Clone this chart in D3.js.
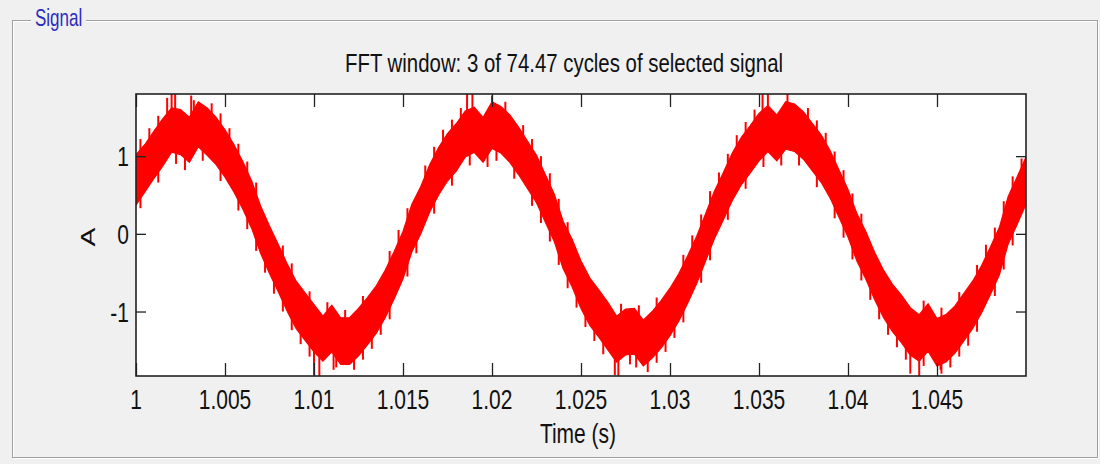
<!DOCTYPE html>
<html>
<head>
<meta charset="utf-8">
<script src="https://cdn.jsdelivr.net/npm/d3@7"></script>
<style>
  html, body { margin: 0; padding: 0; background: #f0f0f0; }
  svg { display: block; }
  text { font-family: "Liberation Sans", Arial, sans-serif; }
</style>
</head>
<body>
<svg id="chart" width="1100" height="464"></svg>
<script>
// ---- data ---------------------------------------------------------------
const titleText = "FFT window: 3 of 74.47 cycles of selected signal";
const xLabel = "Time (s)";
const yLabel = "A";
const groupLabel = "Signal";

const xTicks = [1, 1.005, 1.01, 1.015, 1.02, 1.025, 1.03, 1.035, 1.04, 1.045];
const xTickLabels = ["1", "1.005", "1.01", "1.015", "1.02", "1.025", "1.03", "1.035", "1.04", "1.045"];
const yTicks = [-1, 0, 1];
const yTickLabels = ["-1", "0", "1"];

// signal sampled every 0.5 ms from t = 1 s: upper and lower edge of the ripple band (A)
const startTime = 1;
const sampleStep = 0.0005;
const bandUpper = [
  1.02, 1.15, 1.32, 1.48, 1.62, 1.60, 1.50, 1.70, 1.62, 1.50,
  1.34, 1.15, 0.93, 0.68, 0.36, 0.10, -0.14, -0.39, -0.61, -0.76,
  -0.91, -1.06, -0.92, -1.08, -1.08, -0.96, -0.82, -0.67, -0.47, -0.23,
  0.03, 0.38, 0.61, 0.89, 1.11, 1.29, 1.42, 1.58, 1.63, 1.50,
  1.70, 1.64, 1.53, 1.37, 1.19, 1.01, 0.76, 0.51, 0.16, -0.07,
  -0.35, -0.57, -0.72, -0.88, -1.06, -0.97, -0.96, -1.11, -1.00, -0.86,
  -0.70, -0.51, -0.28, -0.03, 0.26, 0.55, 0.79, 1.04, 1.24, 1.39,
  1.55, 1.65, 1.53, 1.70, 1.67, 1.57, 1.42, 1.27, 1.07, 0.82,
  0.57, 0.26, 0.03, -0.24, -0.47, -0.65, -0.79, -0.95, -1.04, -0.90,
  -1.09, -1.04, -0.93, -0.77, -0.61, -0.41, -0.17, 0.08, 0.48, 0.73,
  0.99
];
const bandLower = [
  0.37, 0.54, 0.71, 0.87, 1.05, 1.02, 0.92, 1.12, 1.01, 0.89,
  0.73, 0.54, 0.32, 0.07, -0.25, -0.51, -0.75, -1.00, -1.22, -1.37,
  -1.52, -1.64, -1.52, -1.68, -1.68, -1.57, -1.43, -1.28, -1.08, -0.84,
  -0.58, -0.23, 0.00, 0.28, 0.50, 0.68, 0.81, 0.99, 1.05, 0.92,
  1.10, 1.04, 0.92, 0.76, 0.58, 0.40, 0.15, -0.10, -0.45, -0.68,
  -0.96, -1.18, -1.33, -1.49, -1.65, -1.56, -1.55, -1.70, -1.60, -1.47,
  -1.31, -1.12, -0.89, -0.64, -0.35, -0.06, 0.18, 0.43, 0.63, 0.78,
  0.94, 1.06, 0.94, 1.09, 1.06, 0.96, 0.81, 0.66, 0.46, 0.21,
  -0.04, -0.35, -0.58, -0.85, -1.08, -1.26, -1.40, -1.56, -1.64, -1.51,
  -1.70, -1.65, -1.54, -1.38, -1.22, -1.02, -0.78, -0.53, -0.13, 0.12,
  0.38
];

// ripple peaks poking out of the band: time (s) and tip value (A)
const rippleTime = [
  1.00025, 1.00075, 1.00125, 1.00175, 1.00325, 1.00425, 1.00475, 1.00525, 1.00575, 1.00625,
  1.00675, 1.00825, 1.00875, 1.00975, 1.01075, 1.01175, 1.01275, 1.01425, 1.01475, 1.01525,
  1.01625, 1.01675, 1.01725, 1.01775, 1.01825, 1.02075, 1.02175, 1.02225, 1.02275, 1.02325,
  1.02375, 1.02425, 1.02725, 1.02825, 1.02925, 1.03075, 1.03125, 1.03175, 1.03225, 1.03275,
  1.03325, 1.03375, 1.03425, 1.03475, 1.03775, 1.03825, 1.03875, 1.03925, 1.03975, 1.04025,
  1.04075, 1.04425, 1.04525, 1.04625, 1.04725, 1.04775, 1.04825, 1.04875, 1.04925, 1.04975,
  1.00025, 1.00125, 1.00225, 1.00275, 1.00375, 1.00475, 1.00575, 1.00625, 1.00675, 1.00725,
  1.00775, 1.00825, 1.00875, 1.00925, 1.00975, 1.01125, 1.01225, 1.01275, 1.01325, 1.01375,
  1.01425, 1.01525, 1.01575, 1.01675, 1.01775, 1.01875, 1.01975, 1.02025, 1.02125, 1.02225,
  1.02275, 1.02325, 1.02375, 1.02425, 1.02475, 1.02525, 1.02575, 1.02625, 1.02775, 1.02875,
  1.02925, 1.02975, 1.03025, 1.03075, 1.03175, 1.03225, 1.03325, 1.03425, 1.03525, 1.03625,
  1.03725, 1.03825, 1.03925, 1.03975, 1.04025, 1.04075, 1.04125, 1.04175, 1.04225, 1.04275,
  1.04325, 1.04425, 1.04525, 1.04575, 1.04625, 1.04675, 1.04725, 1.04825, 1.04875, 1.04925
];
const rippleTip = [
  1.22, 1.36, 1.52, 1.75, 1.72, 1.68, 1.55, 1.36, 1.16, 0.93,
  0.66, -0.15, -0.38, -0.74, -0.88, -0.98, -0.80, -0.22, 0.05, 0.33,
  0.88, 1.12, 1.34, 1.47, 1.62, 1.70, 1.40, 1.22, 1.00, 0.78,
  0.45, 0.15, -0.90, -0.92, -0.82, -0.27, -0.02, 0.25, 0.55, 0.79,
  1.03, 1.27, 1.44, 1.60, 1.62, 1.46, 1.30, 1.06, 0.82, 0.52,
  0.26, -0.86, -0.95, -0.75, -0.40, -0.14, 0.08, 0.42, 0.74, 0.97,
  0.33, 0.66, 0.90, 0.82, 0.94, 0.68, 0.30, 0.06, -0.22, -0.50,
  -0.77, -1.00, -1.24, -1.42, -1.58, -1.72, -1.75, -1.62, -1.48, -1.30,
  -1.10, -0.55, -0.25, 0.26, 0.62, 0.88, 0.86, 0.94, 0.71, 0.36,
  0.14, -0.10, -0.40, -0.70, -0.95, -1.20, -1.38, -1.55, -1.68, -1.78,
  -1.66, -1.52, -1.34, -1.14, -0.63, -0.34, 0.18, 0.58, 0.86, 0.88,
  0.88, 0.60, 0.20, -0.05, -0.33, -0.60, -0.85, -1.10, -1.30, -1.46,
  -1.62, -1.70, -1.80, -1.72, -1.58, -1.44, -1.26, -0.80, -0.46, -0.15
];

// isolated switching spikes near the crests: time (s), high end and low end (A)
const spikeTime = [1.0020, 1.0022, 1.0031, 1.0186, 1.0189, 1.0200, 1.0352, 1.0355, 1.0366,
                   1.0100, 1.0103, 1.0111, 1.0269, 1.0271, 1.0281, 1.0435, 1.0440, 1.0452];
const spikeHigh = [1.80, 1.80, 1.78, 1.80, 1.80, 1.78, 1.80, 1.80, 1.80,
                   -1.20, -1.20, -1.20, -1.20, -1.20, -1.20, -1.20, -1.20, -1.20];
const spikeLow  = [1.20, 1.20, 1.20, 1.20, 1.20, 1.20, 1.20, 1.20, 1.20,
                   -1.82, -1.83, -1.75, -1.82, -1.83, -1.72, -1.80, -1.83, -1.75];

// ---- layout -------------------------------------------------------------
const W = 1100, H = 464;
const plot = { left: 136, right: 1026, top: 94, bottom: 376 };
const stretch = 1.35;   // glyphs of this panel are drawn tall and narrow

const svg = d3.select("#chart");

svg.append("rect").attr("width", W).attr("height", H).attr("fill", "#f0f0f0");

// etched group box
const box = { left: 12, right: 1097, top: 20, bottom: 457 };
const etched = svg.append("g").attr("fill", "none").attr("shape-rendering", "crispEdges");
etched.append("rect")
  .attr("x", box.left + 1.5).attr("y", box.top + 1.5)
  .attr("width", box.right - box.left).attr("height", box.bottom - box.top)
  .attr("stroke", "#ffffff").attr("stroke-width", 1);
etched.append("rect")
  .attr("x", box.left + 0.5).attr("y", box.top + 0.5)
  .attr("width", box.right - box.left).attr("height", box.bottom - box.top)
  .attr("stroke", "#a0a0a0").attr("stroke-width", 1);
svg.append("rect").attr("x", 31).attr("y", 10).attr("width", 55).attr("height", 16).attr("fill", "#f0f0f0");
svg.append("g").attr("transform", `translate(35,26) scale(1,1.4)`)
  .append("text").attr("x", 0).attr("y", 0)
  .attr("font-size", 17).attr("fill", "#2b2bc0").text(groupLabel);

// scales
const x = d3.scaleLinear().domain([1, 1.05]).range([plot.left, plot.right]);
const y = d3.scaleLinear().domain([-1.83, 1.80]).range([plot.bottom, plot.top]);

// plot background
svg.append("rect")
  .attr("x", plot.left).attr("y", plot.top)
  .attr("width", plot.right - plot.left).attr("height", plot.bottom - plot.top)
  .attr("fill", "#ffffff");

svg.append("clipPath").attr("id", "plotclip")
  .append("rect")
  .attr("x", plot.left).attr("y", plot.top)
  .attr("width", plot.right - plot.left).attr("height", plot.bottom - plot.top);

const samples = bandUpper.map((u, i) => ({ t: startTime + i * sampleStep, hi: u, lo: bandLower[i] }));

// middle of the band at time t, used as the root of each ripple stroke
function bandMid(t) {
  const f = (t - startTime) / sampleStep;
  const i0 = Math.max(0, Math.min(samples.length - 1, Math.floor(f)));
  const i1 = Math.min(samples.length - 1, i0 + 1);
  const m0 = (samples[i0].hi + samples[i0].lo) / 2;
  const m1 = (samples[i1].hi + samples[i1].lo) / 2;
  return d3.interpolateNumber(m0, m1)(f - i0);
}

const wave = svg.append("g").attr("clip-path", "url(#plotclip)");

const band = d3.area()
  .x(d => x(d.t))
  .y0(d => y(d.lo))
  .y1(d => y(d.hi))
  .curve(d3.curveLinear);

wave.append("path")
  .datum(samples)
  .attr("d", band)
  .attr("fill", "#ff0000")
  .attr("stroke", "#ff0000")
  .attr("stroke-width", 1.2)
  .attr("stroke-linejoin", "miter");

wave.selectAll("line.ripple")
  .data(rippleTime.map((t, i) => ({ t, tip: rippleTip[i] })))
  .join("line")
  .attr("class", "ripple")
  .attr("x1", d => x(d.t)).attr("x2", d => x(d.t))
  .attr("y1", d => y(d.tip)).attr("y2", d => y(bandMid(d.t)))
  .attr("stroke", "#ff0000").attr("stroke-width", 2);

wave.selectAll("line.spike")
  .data(spikeTime.map((t, i) => ({ t, hi: spikeHigh[i], lo: spikeLow[i] })))
  .join("line")
  .attr("class", "spike")
  .attr("x1", d => x(d.t)).attr("x2", d => x(d.t))
  .attr("y1", d => y(d.hi)).attr("y2", d => y(d.lo))
  .attr("stroke", "#ff0000").attr("stroke-width", 2);

// axes: ticks inside, mirrored on top and right
const tickColor = "#222222";
const axisBottom = d3.axisBottom(x).tickValues(xTicks).tickSizeInner(-13).tickSizeOuter(0).tickFormat("");
const axisTop = d3.axisTop(x).tickValues(xTicks).tickSizeInner(-13).tickSizeOuter(0).tickFormat("");
const axisLeft = d3.axisLeft(y).tickValues(yTicks).tickSizeInner(-10).tickSizeOuter(0).tickFormat("");
const axisRight = d3.axisRight(y).tickValues(yTicks).tickSizeInner(-10).tickSizeOuter(0).tickFormat("");

[[axisBottom, `translate(0,${plot.bottom})`], [axisTop, `translate(0,${plot.top})`],
 [axisLeft, `translate(${plot.left},0)`], [axisRight, `translate(${plot.right},0)`]]
  .forEach(([ax, tr]) => {
    const g = svg.append("g").attr("transform", tr).call(ax);
    g.select(".domain").remove();
    g.selectAll("line").attr("stroke", tickColor).attr("stroke-width", 1.3);
  });

// frame
svg.append("rect")
  .attr("x", plot.left).attr("y", plot.top)
  .attr("width", plot.right - plot.left).attr("height", plot.bottom - plot.top)
  .attr("fill", "none").attr("stroke", tickColor).attr("stroke-width", 1.6);

// tall text helper
function tallText(px, py, str, size, anchor, scaleY, extra) {
  const g = svg.append("g").attr("transform", `translate(${px},${py}) scale(1,${scaleY})${extra || ""}`);
  g.append("text").attr("x", 0).attr("y", 0)
    .attr("text-anchor", anchor).attr("font-size", size).attr("fill", "#111111").text(str);
  return g;
}

xTicks.forEach((v, i) => tallText(x(v), 409, xTickLabels[i], 21, "middle", stretch));
yTicks.forEach((v, i) => tallText(plot.left - 7, y(v) + 10, yTickLabels[i], 21, "end", stretch));

tallText(578, 443, xLabel, 21, "middle", stretch);
tallText(95, 237, yLabel, 21, "middle", stretch, " rotate(-90)");
tallText(564, 72, titleText, 20.4, "middle", 1.27);
</script>
</body>
</html>
